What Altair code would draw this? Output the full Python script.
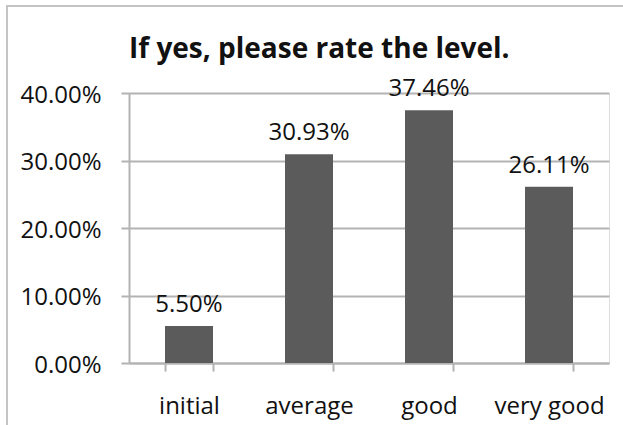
import altair as alt
import pandas as pd

# Survey answers: share of respondents per rating level
levels = ["initial", "average", "good", "very good"]
shares = [5.50, 30.93, 37.46, 26.11]
labels = ["5.50%", "30.93%", "37.46%", "26.11%"]

df = pd.DataFrame({"level": levels, "share": shares, "label": labels})

FONT = "Open Sans"
BAR = "#5b5b5b"
GRID = "#b3b3b3"
FRAME = "#c4c4c4"

x = alt.X(
    "level:N",
    sort=levels,
    title=None,
    scale=alt.Scale(paddingInner=0.6, paddingOuter=0.3),
    axis=alt.Axis(
        labelAngle=0,
        labelFont=FONT,
        labelFontSize=24,
        labelColor="#111111",
        labelPadding=23,
        ticks=True,
        tickBand="extent",
        tickSize=8,
        tickColor=GRID,
        tickWidth=2,
        domainColor=GRID,
        domainWidth=2,
        grid=False,
    ),
)

y = alt.Y(
    "share:Q",
    title=None,
    scale=alt.Scale(domain=[0, 40], nice=False),
    axis=alt.Axis(
        values=[0, 10, 20, 30, 40],
        labelExpr="format(datum.value, '.2f') + '%'",
        labelFont=FONT,
        labelFontSize=24,
        labelColor="#111111",
        labelPadding=20,
        labelOffset=2,
        tickSize=8,
        tickColor=GRID,
        tickWidth=2,
        gridColor=GRID,
        gridWidth=2,
        domainColor=GRID,
        domainWidth=2,
    ),
)

bars = alt.Chart(df).mark_bar(color=BAR).encode(x=x, y=y)

text = alt.Chart(df).mark_text(
    font=FONT, fontSize=24, color="#111111", baseline="alphabetic", dy=-14
).encode(x=alt.X("level:N", sort=levels), y="share:Q", text="label:N")

# Light frame around the chart (left and top edges)
frame_left = alt.Chart(df).mark_rule(color=FRAME, strokeWidth=2).encode(
    x=alt.value(-122), y=alt.value(-87), y2=alt.value(340)
)
frame_top = alt.Chart(df).mark_rule(color=FRAME, strokeWidth=2).encode(
    x=alt.value(-123), x2=alt.value(500), y=alt.value(-87)
)

chart = (
    alt.layer(bars, text, frame_left, frame_top)
    .properties(
        width=480,
        height=270,
        title=alt.TitleParams(
            "If yes, please rate the level.",
            font=FONT,
            fontSize=28,
            fontWeight="bold",
            color="#111111",
            anchor="start",
            frame="group",
            baseline="alphabetic",
            offset=0,
            dy=81,
        ),
        autosize=alt.AutoSizeParams(type="none"),
        padding={"left": 129, "top": 93, "right": 14, "bottom": 62},
    )
    .configure_view(stroke=None)
    .configure(background="white")
)

chart.save("out.html", embed_options={"renderer": "svg", "actions": False})
